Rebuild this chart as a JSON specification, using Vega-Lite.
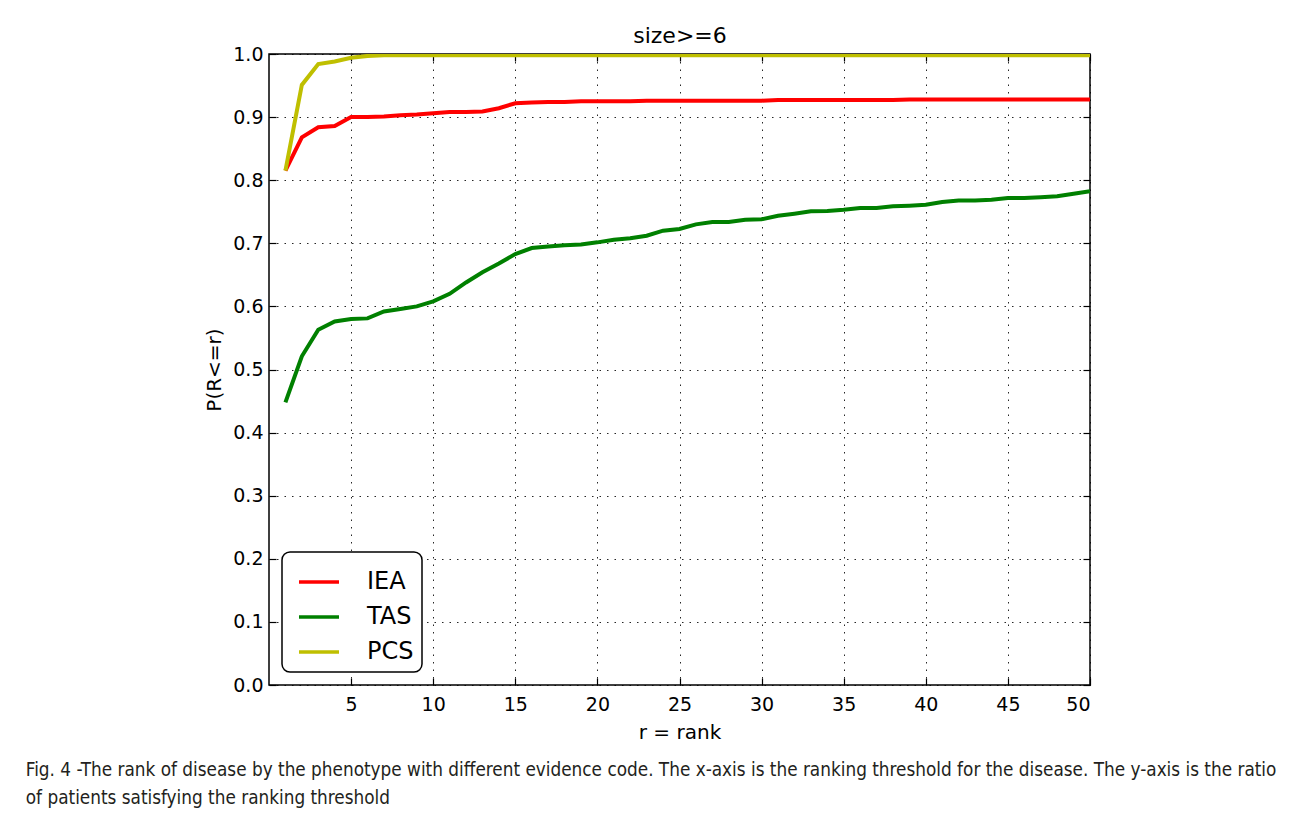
{
  "$schema": "https://vega.github.io/schema/vega-lite/v6.json",
  "background": "white",
  "padding": {"left": 25, "top": 24, "right": 10, "bottom": 5},
  "width": 821,
  "height": 631,
  "title": {
    "text": ["Fig. 4 -The rank of disease by the phenotype with different evidence code. The x-axis is the ranking threshold for the disease. The y-axis is the ratio", "of patients satisfying the ranking threshold"],
    "orient": "bottom",
    "anchor": "start",
    "frame": "bounds",
    "font": "DejaVu Sans Condensed",
    "fontSize": 18.8,
    "fontWeight": "normal",
    "lineHeight": 28,
    "color": "#231f20",
    "offset": 19,
    "dx": -179
  },
  "data": {"values": [
      {"r": 1, "code": "IEA", "p": 0.815}, {"r": 2, "code": "IEA", "p": 0.868}, {"r": 3, "code": "IEA", "p": 0.884}, {"r": 4, "code": "IEA", "p": 0.886}, {"r": 5, "code": "IEA", "p": 0.900},
      {"r": 6, "code": "IEA", "p": 0.900}, {"r": 7, "code": "IEA", "p": 0.901}, {"r": 8, "code": "IEA", "p": 0.903}, {"r": 9, "code": "IEA", "p": 0.904}, {"r": 10, "code": "IEA", "p": 0.906},
      {"r": 11, "code": "IEA", "p": 0.908}, {"r": 12, "code": "IEA", "p": 0.908}, {"r": 13, "code": "IEA", "p": 0.909}, {"r": 14, "code": "IEA", "p": 0.914}, {"r": 15, "code": "IEA", "p": 0.922},
      {"r": 16, "code": "IEA", "p": 0.923}, {"r": 17, "code": "IEA", "p": 0.924}, {"r": 18, "code": "IEA", "p": 0.924}, {"r": 19, "code": "IEA", "p": 0.925}, {"r": 20, "code": "IEA", "p": 0.925},
      {"r": 21, "code": "IEA", "p": 0.925}, {"r": 22, "code": "IEA", "p": 0.925}, {"r": 23, "code": "IEA", "p": 0.926}, {"r": 24, "code": "IEA", "p": 0.926}, {"r": 25, "code": "IEA", "p": 0.926},
      {"r": 26, "code": "IEA", "p": 0.926}, {"r": 27, "code": "IEA", "p": 0.926}, {"r": 28, "code": "IEA", "p": 0.926}, {"r": 29, "code": "IEA", "p": 0.926}, {"r": 30, "code": "IEA", "p": 0.926},
      {"r": 31, "code": "IEA", "p": 0.927}, {"r": 32, "code": "IEA", "p": 0.927}, {"r": 33, "code": "IEA", "p": 0.927}, {"r": 34, "code": "IEA", "p": 0.927}, {"r": 35, "code": "IEA", "p": 0.927},
      {"r": 36, "code": "IEA", "p": 0.927}, {"r": 37, "code": "IEA", "p": 0.927}, {"r": 38, "code": "IEA", "p": 0.927}, {"r": 39, "code": "IEA", "p": 0.928}, {"r": 40, "code": "IEA", "p": 0.928},
      {"r": 41, "code": "IEA", "p": 0.928}, {"r": 42, "code": "IEA", "p": 0.928}, {"r": 43, "code": "IEA", "p": 0.928}, {"r": 44, "code": "IEA", "p": 0.928}, {"r": 45, "code": "IEA", "p": 0.928},
      {"r": 46, "code": "IEA", "p": 0.928}, {"r": 47, "code": "IEA", "p": 0.928}, {"r": 48, "code": "IEA", "p": 0.928}, {"r": 49, "code": "IEA", "p": 0.928}, {"r": 50, "code": "IEA", "p": 0.928},
      {"r": 1, "code": "TAS", "p": 0.448}, {"r": 2, "code": "TAS", "p": 0.521}, {"r": 3, "code": "TAS", "p": 0.563}, {"r": 4, "code": "TAS", "p": 0.576}, {"r": 5, "code": "TAS", "p": 0.580},
      {"r": 6, "code": "TAS", "p": 0.581}, {"r": 7, "code": "TAS", "p": 0.592}, {"r": 8, "code": "TAS", "p": 0.596}, {"r": 9, "code": "TAS", "p": 0.600}, {"r": 10, "code": "TAS", "p": 0.608},
      {"r": 11, "code": "TAS", "p": 0.620}, {"r": 12, "code": "TAS", "p": 0.638}, {"r": 13, "code": "TAS", "p": 0.654}, {"r": 14, "code": "TAS", "p": 0.668}, {"r": 15, "code": "TAS", "p": 0.683},
      {"r": 16, "code": "TAS", "p": 0.6925}, {"r": 17, "code": "TAS", "p": 0.695}, {"r": 18, "code": "TAS", "p": 0.697}, {"r": 19, "code": "TAS", "p": 0.698}, {"r": 20, "code": "TAS", "p": 0.7015},
      {"r": 21, "code": "TAS", "p": 0.7057}, {"r": 22, "code": "TAS", "p": 0.708}, {"r": 23, "code": "TAS", "p": 0.712}, {"r": 24, "code": "TAS", "p": 0.720}, {"r": 25, "code": "TAS", "p": 0.7227},
      {"r": 26, "code": "TAS", "p": 0.730}, {"r": 27, "code": "TAS", "p": 0.7337}, {"r": 28, "code": "TAS", "p": 0.7337}, {"r": 29, "code": "TAS", "p": 0.7374}, {"r": 30, "code": "TAS", "p": 0.738},
      {"r": 31, "code": "TAS", "p": 0.7437}, {"r": 32, "code": "TAS", "p": 0.747}, {"r": 33, "code": "TAS", "p": 0.7507}, {"r": 34, "code": "TAS", "p": 0.751}, {"r": 35, "code": "TAS", "p": 0.753},
      {"r": 36, "code": "TAS", "p": 0.756}, {"r": 37, "code": "TAS", "p": 0.756}, {"r": 38, "code": "TAS", "p": 0.7586}, {"r": 39, "code": "TAS", "p": 0.7597}, {"r": 40, "code": "TAS", "p": 0.761},
      {"r": 41, "code": "TAS", "p": 0.7655}, {"r": 42, "code": "TAS", "p": 0.768}, {"r": 43, "code": "TAS", "p": 0.768}, {"r": 44, "code": "TAS", "p": 0.769}, {"r": 45, "code": "TAS", "p": 0.7718},
      {"r": 46, "code": "TAS", "p": 0.7718}, {"r": 47, "code": "TAS", "p": 0.773}, {"r": 48, "code": "TAS", "p": 0.7745}, {"r": 49, "code": "TAS", "p": 0.7786}, {"r": 50, "code": "TAS", "p": 0.7824},
      {"r": 1, "code": "PCS", "p": 0.815}, {"r": 2, "code": "PCS", "p": 0.951}, {"r": 3, "code": "PCS", "p": 0.984}, {"r": 4, "code": "PCS", "p": 0.988}, {"r": 5, "code": "PCS", "p": 0.994},
      {"r": 6, "code": "PCS", "p": 0.997}, {"r": 7, "code": "PCS", "p": 0.998}, {"r": 8, "code": "PCS", "p": 0.998}, {"r": 9, "code": "PCS", "p": 0.998}, {"r": 10, "code": "PCS", "p": 0.998},
      {"r": 11, "code": "PCS", "p": 0.998}, {"r": 12, "code": "PCS", "p": 0.998}, {"r": 13, "code": "PCS", "p": 0.998}, {"r": 14, "code": "PCS", "p": 0.998}, {"r": 15, "code": "PCS", "p": 0.998},
      {"r": 16, "code": "PCS", "p": 0.998}, {"r": 17, "code": "PCS", "p": 0.998}, {"r": 18, "code": "PCS", "p": 0.998}, {"r": 19, "code": "PCS", "p": 0.998}, {"r": 20, "code": "PCS", "p": 0.998},
      {"r": 21, "code": "PCS", "p": 0.998}, {"r": 22, "code": "PCS", "p": 0.998}, {"r": 23, "code": "PCS", "p": 0.998}, {"r": 24, "code": "PCS", "p": 0.998}, {"r": 25, "code": "PCS", "p": 0.998},
      {"r": 26, "code": "PCS", "p": 0.998}, {"r": 27, "code": "PCS", "p": 0.998}, {"r": 28, "code": "PCS", "p": 0.998}, {"r": 29, "code": "PCS", "p": 0.998}, {"r": 30, "code": "PCS", "p": 0.998},
      {"r": 31, "code": "PCS", "p": 0.998}, {"r": 32, "code": "PCS", "p": 0.998}, {"r": 33, "code": "PCS", "p": 0.998}, {"r": 34, "code": "PCS", "p": 0.998}, {"r": 35, "code": "PCS", "p": 0.998},
      {"r": 36, "code": "PCS", "p": 0.998}, {"r": 37, "code": "PCS", "p": 0.998}, {"r": 38, "code": "PCS", "p": 0.998}, {"r": 39, "code": "PCS", "p": 0.998}, {"r": 40, "code": "PCS", "p": 0.998},
      {"r": 41, "code": "PCS", "p": 0.998}, {"r": 42, "code": "PCS", "p": 0.998}, {"r": 43, "code": "PCS", "p": 0.998}, {"r": 44, "code": "PCS", "p": 0.998}, {"r": 45, "code": "PCS", "p": 0.998},
      {"r": 46, "code": "PCS", "p": 0.998}, {"r": 47, "code": "PCS", "p": 0.998}, {"r": 48, "code": "PCS", "p": 0.998}, {"r": 49, "code": "PCS", "p": 0.998}, {"r": 50, "code": "PCS", "p": 0.998}
  ]},
  "layer": [
    {
      "mark": {"type": "line", "strokeWidth": 4, "clip": true},
      "encoding": {
        "x": {"field": "r", "type": "quantitative", "scale": {"domain": [0, 50], "nice": false},
          "axis": {"orient": "bottom", "title": "r = rank", "values": [5, 10, 15, 20, 25, 30, 35, 40, 45, 50], "labelPadding": 17, "titlePadding": 8}},
        "y": {"field": "p", "type": "quantitative", "scale": {"domain": [0, 1], "nice": false},
          "axis": {"orient": "left", "title": "P(R<=r)", "values": [0, 0.1, 0.2, 0.3, 0.4, 0.5, 0.6, 0.7, 0.8, 0.9, 1.0], "format": ".1f", "labelPadding": 13, "titlePadding": 8}},
        "color": {"field": "code", "type": "nominal",
          "scale": {"domain": ["IEA", "TAS", "PCS"], "range": ["#ff0000", "#008000", "#bfbf00"]},
          "legend": {"orient": "bottom-left", "offset": 13, "title": null, "symbolType": "stroke", "symbolSize": 1600, "symbolStrokeWidth": 3.5, "symbolOffset": 7,
            "labelFont": "DejaVu Sans", "labelFontSize": 24, "labelColor": "black", "labelOffset": 26, "rowPadding": 1, "padding": 8,
            "cornerRadius": 8, "strokeColor": "black", "fillColor": "white"}}
      }
    },
    {
      "mark": {"type": "line", "opacity": 0},
      "encoding": {
        "x": {"field": "r", "type": "quantitative", "scale": {"domain": [0, 50], "nice": false},
          "axis": {"orient": "top", "title": "size>=6", "titleFontSize": 22, "titlePadding": 6, "labels": false, "grid": false, "values": [5, 10, 15, 20, 25, 30, 35, 40, 45, 50]}},
        "y": {"field": "p", "type": "quantitative", "scale": {"domain": [0, 1], "nice": false},
          "axis": {"orient": "right", "title": null, "labels": false, "grid": false, "values": [0, 0.1, 0.2, 0.3, 0.4, 0.5, 0.6, 0.7, 0.8, 0.9, 1.0]}},
        "detail": {"field": "code", "type": "nominal"}
      }
    }
  ],
  "resolve": {"axis": {"x": "independent", "y": "independent"}},
  "config": {
    "font": "DejaVu Sans",
    "view": {"stroke": "black", "strokeWidth": 1.5},
    "axis": {
      "labelFont": "DejaVu Sans", "labelFontSize": 19, "labelColor": "black",
      "titleFont": "DejaVu Sans", "titleFontSize": 20, "titleFontWeight": "normal", "titleColor": "black",
      "domain": false, "tickColor": "black", "tickSize": -7, "tickWidth": 1.2,
      "grid": true, "gridColor": "black", "gridDash": [1.5, 6], "gridWidth": 1, "gridOpacity": 0.85
    },
    "legend": {"strokeWidth": 1.5}
  }
}
